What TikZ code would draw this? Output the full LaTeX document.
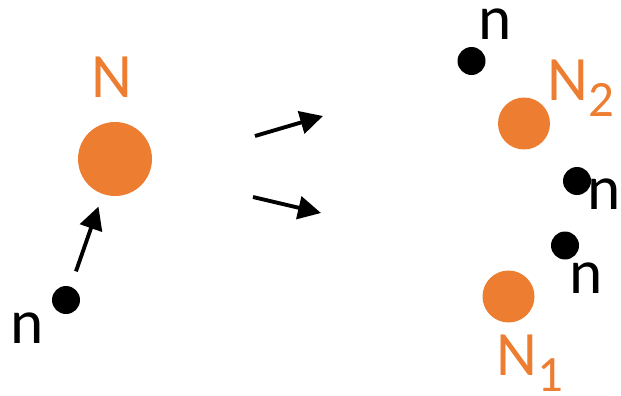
\documentclass[tikz,border=0pt]{standalone}
\usepackage{fontspec}
\setmainfont{Carlito}
\usetikzlibrary{arrows.meta, positioning, calc}
\definecolor{nucorange}{HTML}{ED7D31}
\tikzstyle{nucleus} = [circle, fill=nucorange, inner sep=0pt, minimum size=1.48cm]
\tikzstyle{fragment} = [circle, fill=nucorange, inner sep=0pt, minimum size=1.04cm]
\tikzstyle{neutron} = [circle, fill=black, inner sep=0pt, minimum size=0.56cm]
\tikzstyle{nlabel} = [inner sep=0pt, anchor=base, font=\fontsize{36}{40}\selectfont]
\tikzstyle{Nlabel} = [nlabel, text=nucorange]
\tikzstyle{arrow} = [line width=2.2pt, -{Triangle[length=13pt,width=13pt]}]
\newcommand{\sub}[1]{\raisebox{-9.5pt}{\fontsize{29}{31}\selectfont #1}}

\begin{document}
\begin{tikzpicture}[x=0.02cm, y=-0.02cm]
\useasboundingbox (0,0) rectangle (621,395);

% Before: neutron hits the nucleus
\node (N0) [nucleus] at (115,159) {};
\node (N0lab) [Nlabel] at (111.5,97) {N};
\node (n0) [neutron] at (66,300) {};
\node (n0lab) [nlabel] at (27.5,343) {n};

% Reaction arrows
\coordinate (a1s) at (255,136);
\coordinate (a1e) at (323,116);
\coordinate (a2s) at (253,197);
\coordinate (a2e) at (321,213);

% After: two fragments and free neutrons
\node (N2) [fragment] at (524,123.5) {};
\node (N2lab) [Nlabel, anchor=base west] at (547,100) {N\sub{2}};
\node (N1) [fragment] at (508.5,296.5) {};
\node (N1lab) [Nlabel, anchor=base west] at (496,375) {N\sub{1}};
\node (n1) [neutron] at (471.5,61) {};
\node (n1lab) [nlabel] at (495.5,40) {n};
\node (n2) [neutron] at (577,181) {};
\node (n2lab) [nlabel] at (604.5,209) {n};
\node (n3) [neutron] at (565,245.5) {};
\node (n3lab) [nlabel] at (586,293) {n};

% Arrows
\draw [arrow, shorten <=0.32cm, shorten >=0.26cm] (n0) -- (N0);
\draw [arrow] (a1s) -- (a1e);
\draw [arrow] (a2s) -- (a2e);

\end{tikzpicture}
\end{document}
